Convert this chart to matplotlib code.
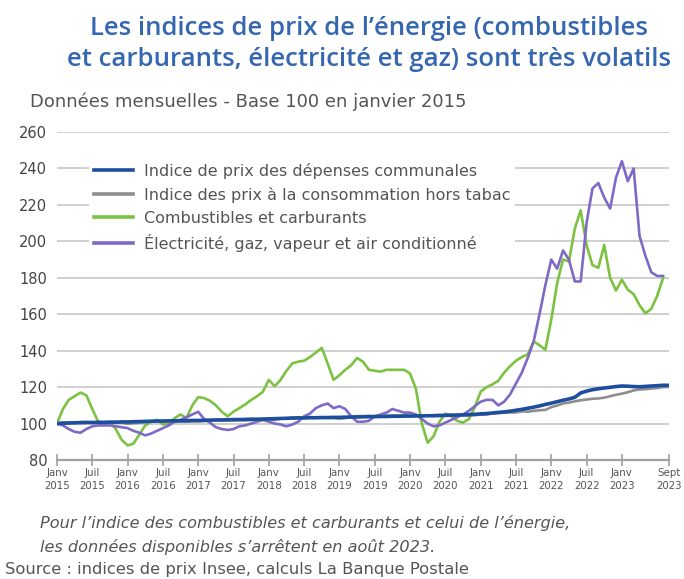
import numpy as np
import matplotlib
matplotlib.use('Agg')
import matplotlib.pyplot as plt

# monthly data, Jan 2015 = 100 (index 0 = janv 2015)
depenses_communales = [
    100.0, 100.2, 100.3, 100.4, 100.5, 100.6, 100.6, 100.7, 100.7, 100.8, 100.8, 100.9,
    100.9, 101.0, 101.1, 101.2, 101.3, 101.4, 101.4, 101.5, 101.5, 101.6, 101.6, 101.7,
    101.7, 101.8, 101.9, 102.0, 102.0, 102.1, 102.2, 102.2, 102.3, 102.4, 102.4, 102.5,
    102.6, 102.7, 102.8, 102.9, 103.0, 103.1, 103.1, 103.2, 103.2, 103.3, 103.3, 103.4,
    103.4, 103.5, 103.6, 103.6, 103.7, 103.8, 103.8, 103.9, 103.9, 104.0, 104.0, 104.1,
    104.1, 104.2, 104.2, 104.3, 104.3, 104.4, 104.5, 104.6, 104.7, 104.8, 104.9, 105.1,
    105.3, 105.5, 105.8, 106.1, 106.4, 106.8, 107.3, 107.8, 108.4, 109.0, 109.7, 110.5,
    111.2, 112.0, 112.8, 113.5, 114.4, 116.8, 117.8, 118.6, 119.1, 119.5, 119.9, 120.3,
    120.6, 120.5, 120.3, 120.2, 120.4, 120.6, 120.8, 121.0, 121.0,
]
ipc_hors_tabac = [
    100.0, 100.6, 100.6, 100.7, 100.8, 100.8, 100.5, 100.7, 100.5, 100.6, 100.5, 100.5,
    99.9, 100.2, 100.5, 100.7, 101.1, 101.2, 101.0, 101.2, 101.0, 101.1, 101.1, 101.2,
    101.2, 101.4, 101.7, 101.8, 101.8, 101.8, 101.7, 101.9, 101.8, 101.9, 101.9, 102.1,
    102.1, 102.0, 102.8, 102.9, 103.3, 103.4, 103.1, 103.6, 103.3, 103.3, 103.1, 103.1,
    102.7, 103.0, 103.6, 104.1, 104.1, 104.2, 104.0, 104.5, 104.3, 104.4, 104.4, 104.5,
    104.3, 104.3, 104.4, 104.4, 104.6, 104.7, 104.6, 104.8, 104.4, 104.5, 104.4, 104.6,
    104.9, 105.0, 105.5, 105.8, 105.9, 106.1, 106.1, 106.7, 106.5, 107.0, 107.3, 107.5,
    109.0, 109.9, 111.0, 111.5, 112.2, 112.8, 113.2, 113.6, 113.8, 114.2, 115.0, 115.8,
    116.4, 117.2, 118.2, 118.7, 118.9, 119.2, 119.5, 120.0, 120.2,
]
combustibles_carburants = [
    100, 108, 113, 115, 117, 115.5, 108, 101, 100, 100.5, 97, 91,
    88, 89, 94, 99, 101, 102, 99.5, 100, 103, 105, 103, 110,
    114.5, 114, 112.5, 110, 106.5, 104, 106.5, 108.5, 110.5, 113, 115, 117.5,
    124, 120.5, 124, 129, 133, 134, 134.5, 136.5, 139, 141.5, 133, 124,
    126.5, 129.5, 132, 136, 134, 129.5, 129, 128.5, 129.5, 129.5, 129.5, 129.5,
    127.5, 119, 100, 89.5, 93, 101, 105.5, 104, 101.5, 100.5, 102.5, 109,
    117.5, 120, 121.5, 123.5, 128, 131.5, 134.5, 136.5, 138, 145, 143, 140.5,
    157, 177, 190, 189, 207, 217, 198, 187, 185.5, 198, 180, 173,
    179, 173.5, 171, 165, 160.5, 163, 170, 180,
]
electricite_gaz = [
    100, 99, 97, 95.5, 95, 97, 98.5, 99, 99, 99, 98.5, 98,
    97.5, 96, 95, 93.5, 94.5, 96, 97.5, 99, 101, 102, 103.5, 105,
    106.5, 102.5, 100.5, 98, 97, 96.5, 97, 98.5, 99, 100, 101, 102,
    101, 100, 99.5, 98.5, 99.5, 101, 104, 105.5, 108.5, 110, 111, 108.5,
    109.5, 108, 104, 101, 101, 101.5, 104, 105, 106, 108, 107, 106,
    106, 105, 102.5, 100, 98.5, 99, 100.5, 102, 103.5, 105, 107, 109.5,
    112, 113, 113, 110, 112, 116, 122, 128, 136, 145, 160, 176,
    190, 185, 195, 190, 178, 178, 210, 229, 232, 224, 218, 235,
    244, 233, 240, 203, 192, 183, 181, 181,
]

labels = ['Indice de prix des dépenses communales',
          'Indice des prix à la consommation hors tabac',
          'Combustibles et carburants',
          'Électricité, gaz, vapeur et air conditionné']

tick_pos = list(range(0, 97, 6)) + [104]
tick_labels = []
for i, m in enumerate(tick_pos[:-1]):
    tick_labels.append(('Janv' if i % 2 == 0 else 'Juil') + '\n' + str(2015 + i // 2))
tick_labels.append('Sept\n2023')

blue = '#1d4e9e'
grey = '#8e8e8e'
green = '#7cc242'
purple = '#7e6ac6'
txt = '#555555'

fig = plt.figure(figsize=(6.84, 5.79), dpi=100)
ax = fig.add_axes([0.0833, 0.2055, 0.8947, 0.5665])

x_all = np.arange(len(depenses_communales))
x_en = np.arange(len(combustibles_carburants))
ax.plot(x_en, combustibles_carburants, color=green, lw=1.9, label=labels[2], zorder=3)
ax.plot(x_en, electricite_gaz, color=purple, lw=1.9, label=labels[3], zorder=4)
ax.plot(x_all, ipc_hors_tabac, color=grey, lw=1.9, label=labels[1], zorder=5)
ax.plot(x_all, depenses_communales, color=blue, lw=2.6, label=labels[0], zorder=6)

ax.set_ylim(80, 260)
ax.set_xlim(0, 104)
ax.set_yticks(range(80, 261, 20))
ax.yaxis.grid(True, color='#cfcfcf', lw=1.4)
ax.set_axisbelow(True)
for s in ['top', 'right', 'left']:
    ax.spines[s].set_visible(False)
ax.spines['bottom'].set_color('#a0a0a0')
ax.spines['bottom'].set_linewidth(1.6)
ax.tick_params(axis='y', length=0, labelsize=10.5, labelcolor='#444444', pad=7)
ax.set_xticks(tick_pos)
ax.set_xticklabels(tick_labels, fontsize=7.4, color=txt, linespacing=1.35)
ax.tick_params(axis='x', direction='inout', length=8, width=1.2, color='#a0a0a0', pad=2)

h, l = ax.get_legend_handles_labels()
order = [3, 2, 0, 1]
leg = ax.legend([h[i] for i in order], [l[i] for i in order],
                loc='upper left', bbox_to_anchor=(0.04, 0.945), frameon=True,
                facecolor='white', edgecolor='none', framealpha=1,
                fontsize=11.5, handlelength=2.4, labelspacing=0.5,
                borderpad=0.3, handletextpad=0.7)
leg.set_zorder(10)
for t in leg.get_texts():
    t.set_color(txt)
for lh in leg.get_lines():
    lh.set_linewidth(2.6)

title_kw = dict(ha='center', va='center', fontsize=18.5, fontweight='semibold',
                color='#3566b0', family='Open Sans')
fig.text(0.54, 0.950, "Les indices de prix de l\u2019énergie (combustibles", **title_kw)
fig.text(0.54, 0.897, "et carburants, électricité et gaz) sont très volatils", **title_kw)
fig.text(0.044, 0.824, 'Données mensuelles - Base 100 en janvier 2015',
         ha='left', va='center', fontsize=13, color=txt)

fig.text(0.058, 0.097, "Pour l\u2019indice des combustibles et carburants et celui de l\u2019énergie,",
         ha='left', va='center', fontsize=11.6, color=txt, style='italic')
fig.text(0.058, 0.055, "les données disponibles s\u2019arrêtent en août 2023.",
         ha='left', va='center', fontsize=11.6, color=txt, style='italic')
fig.text(0.007, 0.016, 'Source : indices de prix Insee, calculs La Banque Postale',
         ha='left', va='center', fontsize=11.8, color=txt)

fig.savefig('out.png', dpi=100)
